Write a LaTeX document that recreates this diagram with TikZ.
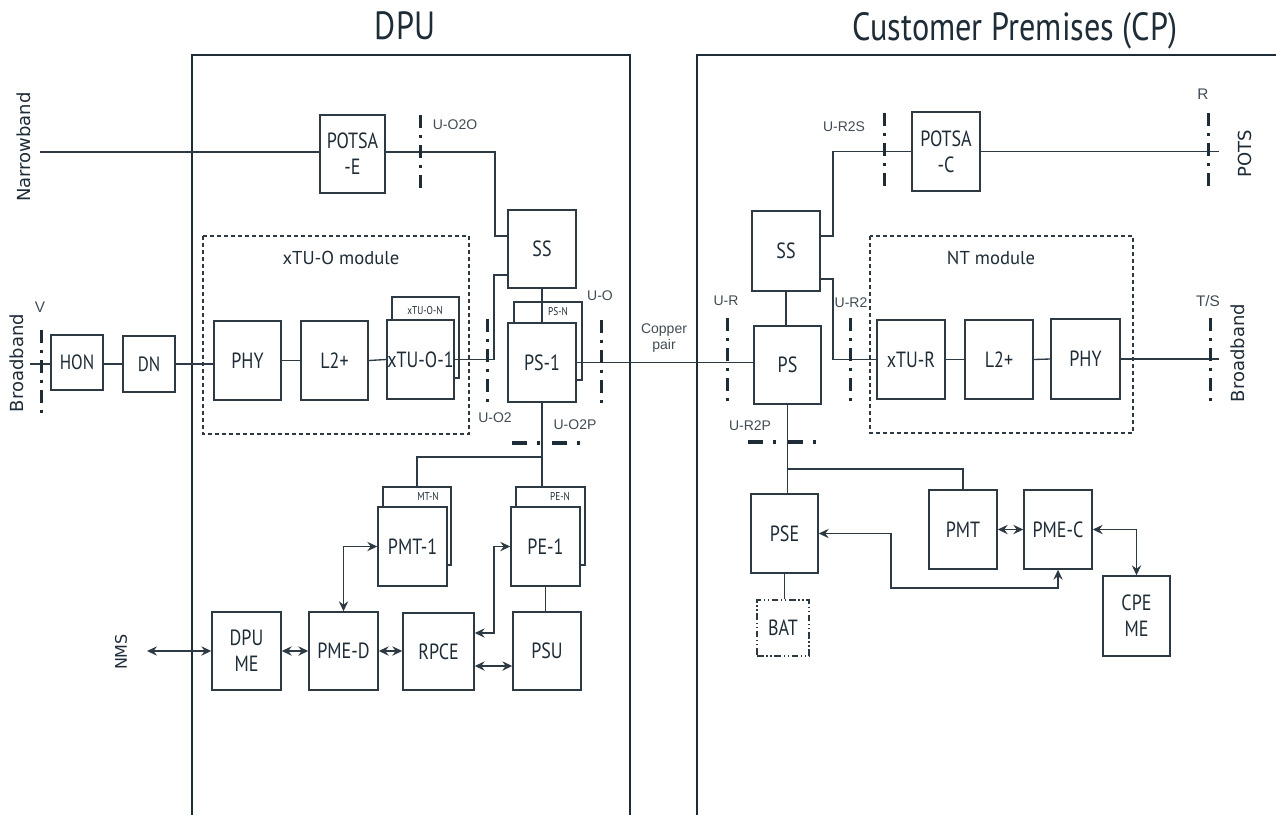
\documentclass[tikz,border=0pt]{standalone}
\usepackage{fontspec}
\setmainfont{Liberation Sans}
\newfontfamily\bfont{PT Sans}[FakeStretch=0.82]
\newfontfamily\mfont{PT Sans}
\newfontfamily\dfont{DejaVu Sans}
\usetikzlibrary{arrows.meta}
\definecolor{ink}{RGB}{30,44,55}
\definecolor{lnc}{RGB}{45,58,68}
\tikzset{
 bx/.style={draw=lnc, line width=1.1pt, fill=white, inner sep=0pt, text=ink, font=\bfont\fontsize{16.5}{19.5}\selectfont, align=center},
 ln/.style={draw=lnc, line width=1pt},
 arr/.style={ln, {Stealth[length=7.5pt,width=7pt,inset=2.6pt]}-{Stealth[length=7.5pt,width=7pt,inset=2.6pt]}},
 ifv/.style={draw=ink, line width=2.25pt, dash pattern=on 9.75pt off 5.25pt on 2.25pt off 5.25pt},
 ifh/.style={draw=ink, line width=3pt, dash pattern=on 11.25pt off 7.5pt on 2.25pt off 9pt},
 lbl/.style={text=ink!85, font=\fontsize{10.5}{12.5}\selectfont, inner sep=0pt, align=center},
 lblb/.style={text=ink!85, font=\fontsize{11.5}{13}\selectfont, inner sep=0pt},
 rot/.style={text=ink, font=\dfont\fontsize{13.5}{16}\selectfont, rotate=90, inner sep=0pt},
 ttl/.style={text=ink, font=\bfont\fontsize{29.5}{32}\selectfont, inner sep=0pt, anchor=base},
 modf/.style={draw=lnc, line width=0.8pt, dash pattern=on 3pt off 2.25pt},
 modl/.style={text=ink, font=\mfont\fontsize{14}{16}\selectfont, inner sep=0pt},
 smalll/.style={text=ink, font=\bfont\fontsize{8.5}{10}\selectfont, inner sep=0pt},
 framel/.style={draw=ink, line width=1.6pt},
 batb/.style={dash pattern=on 5pt off 2pt on 1pt off 2pt on 1pt off 2pt},
}
\newcommand\bxn[7][]{\node[bx,#1, minimum width={(#5-#3)*0.75pt}, minimum height={(#6-#4)*0.75pt}] (#2) at ({(#3+#5)/2},{(#4+#6)/2}) {#7};}
\begin{document}
\begin{tikzpicture}[x=0.75pt,y=-0.75pt]
\useasboundingbox (0,0) rectangle (1276,814);
% titles
\node[ttl] (tdpu) at (405,39) {DPU};
\node[ttl] (tcp) at (1015,40) {Customer Premises (CP)};
% frames
\draw[framel] (192,830) -- (192,55) -- (630,55) -- (630,830);
\draw[framel] (697,830) -- (697,55) -- (1290,55);
% module frames
\draw[modf] (203,236) rectangle (469,434);
\draw[modf] (870,236) rectangle (1133,433);
\node[modl] (mxtu) at (341,258) {xTU-O module};
\node[modl] (mnt) at (991,258) {NT module};
% boxes DPU side
\bxn[font=\bfont\fontsize{15.5}{18}\selectfont]{hon}{51}{335}{103}{390}{HON}
\bxn[font=\bfont\fontsize{15.5}{18}\selectfont]{dn}{123}{336}{175}{392}{DN}
\bxn{potsae}{320}{115}{385}{193}{POTSA\\-E}
\bxn{phya}{214}{321}{281}{400}{PHY}
\bxn{l2a}{301}{321}{368}{400}{L2+}
\bxn{xtun}{392}{297}{459}{378}{}
\bxn{xtuo}{387}{320}{454}{399}{xTU-O-1}
\bxn{ssa}{508}{210}{576}{288}{SS}
\bxn{psn}{514}{302}{582}{380}{}
\bxn{psa}{508}{323}{576}{402}{PS-1}
\bxn{pmtn}{383}{487}{451}{565}{}
\bxn{pmta}{378}{507}{447}{586}{PMT-1}
\bxn{pen}{516}{487}{585}{565}{}
\bxn{pea}{511}{507}{580}{586}{PE-1}
\bxn{psu}{513}{612}{581}{690}{PSU}
\bxn{dpume}{212}{612}{281}{690}{DPU\\ME}
\bxn{pmed}{309}{612}{378}{690}{PME-D}
\bxn{rpce}{403}{613}{474}{690}{RPCE}
% small labels on back boxes
\node[smalll] (lxn) at (425,311) {xTU-O-N};
\node[smalll] (lpn) at (558,312) {PS-N};
\node[smalll] (lmn) at (428,497) {MT-N};
\node[smalll] (len) at (560,497) {PE-N};
% boxes CP side
\bxn{potsac}{912}{112}{980}{191}{POTSA\\-C}
\bxn{ssb}{752}{211}{820}{291}{SS}
\bxn{psb}{754}{326}{821}{404}{PS}
\bxn{xtur}{877}{320}{945}{399}{xTU-R}
\bxn{l2b}{965}{320}{1033}{399}{L2+}
\bxn{phyb}{1051}{319}{1120}{399}{PHY}
\bxn{pse}{751}{494}{818}{573}{PSE}
\bxn{pmtb}{929}{490}{997}{569}{PMT}
\bxn{pmec}{1024}{490}{1092}{569}{PME-C}
\bxn{cpeme}{1103}{576}{1170}{656}{CPE\\ME}
\bxn[batb]{bat}{757}{600}{809}{656}{BAT}
% coordinates
\coordinate (nbs) at (40,152);
\coordinate (bbs) at (30,364);
\coordinate (a1) at (495,236);
\coordinate (a2) at (494,275);
\coordinate (b1) at (542,457);
\coordinate (nms) at (147,651);
\coordinate (c1) at (474,666);
\coordinate (c2) at (494,633);
\coordinate (d1) at (833,236);
\coordinate (d2) at (833,279);
\coordinate (pend) at (1219,151);
\coordinate (e1) at (787,469);
\coordinate (g1) at (891,588);
% connectors DPU
\draw[ln] (nbs) -- (nbs -| potsae.west);
\draw[ln] (bbs) -- (bbs -| hon.west);
\draw[ln] (hon.east |- bbs) -- (bbs -| dn.west);
\draw[ln, line width=1.7pt] (dn.east |- bbs) -- (bbs -| phya.west);
\draw[ln] (phya.east) -- (l2a.west);
\draw[ln] (l2a.east) -- (xtuo.west);
\draw[ln] (potsae.east |- nbs) -| (a1) -- (a1 -| ssa.west);
\draw[ln] (xtuo.east) -| (a2) -- (a2 -| ssa.west);
\draw[ln] (ssa.south) -- (psa.north);
\draw[ln] (psa.east) -- (psa.east -| psb.west);
\draw[ln] (psa.south) -- (psa.south |- pen.north);
\draw[ln] (psa.south |- b1) -| (pmtn.north);
\draw[ln] (pea.south) -- (pea.south |- psu.north);
\draw[arr] (nms) -- (nms -| dpume.west);
\draw[arr] (dpume.east) -- (pmed.west);
\draw[arr] (pmed.east) -- (pmed.east -| rpce.west);
\draw[arr] (rpce.east |- c1) -- (c1 -| psu.west);
\draw[arr] (pmed.north) |- (pmta.west);
\draw[arr] (rpce.east |- c2) -- (c2) |- (pea.west);
% connectors CP
\draw[ln] (ssb.east |- d1) -- (d1) |- (potsac.west);
\draw[ln] (ssb.east |- d2) -- (d2) |- (xtur.west);
\draw[ln] (potsac.east) -- (potsac.east -| pend);
\draw[ln] (xtur.east) -- (l2b.west);
\draw[ln] (l2b.east) -- (phyb.west);
\draw[ln] (phyb.east) -- (phyb.east -| pend);
\draw[ln] (ssb.south) -- (ssb.south |- psb.north);
\draw[ln] (psb.south) -- (psb.south |- pse.north);
\draw[ln] (psb.south |- e1) -| (pmtb.north);
\draw[ln] (pse.south) -- (pse.south |- bat.north);
\draw[arr] (pmtb.east) -- (pmtb.east -| pmec.west);
\draw[arr] (pmec.east) -| (cpeme.north);
\draw[arr] (pse.east) -| (g1) -| (pmec.south);
% interface markers
\draw[ifv] (41,330) -- (41,413);
\draw[ifv] (420,115) -- (420,190);
\draw[ifv] (487,319) -- (487,405);
\draw[ifv] (601,320) -- (601,405);
\draw[ifh] (512,443) -- (583,443);
\draw[ifv] (727,318) -- (727,403);
\draw[ifv] (850,318) -- (850,403);
\draw[ifv] (884,113) -- (884,190);
\draw[ifv] (1208,113) -- (1208,190);
\draw[ifv] (1210,318) -- (1210,403);
\draw[ifh] (748,442) -- (819,442);
% labels
\node[lblb] (lv) at (40,307) {V};
\node[lbl] (lo2o) at (455,125) {U-O2O};
\node[lbl] (lo2) at (495,418) {U-O2};
\node[lbl] (lo) at (600,296) {U-O};
\node[lbl] (lo2p) at (575,425) {U-O2P};
\node[lbl] (lr) at (726,301) {U-R};
\node[lbl] (lr2) at (851,303) {U-R2};
\node[lbl] (lr2s) at (844,127) {U-R2S};
\node[lblb] (lrr) at (1203,94) {R};
\node[lblb] (lts) at (1208,301) {T/S};
\node[lbl] (lr2p) at (750,426) {U-R2P};
\node[lbl] (lcp) at (664,338) {Copper\\pair};
\node[rot] (tnb) at (24,147) {Narrowband};
\node[rot] (tbb) at (17,363) {Broadband};
\node[rot] (tpots) at (1245,154) {POTS};
\node[rot] (tbb2) at (1238,353) {Broadband};
\node[rot, font=\dfont\fontsize{12}{14}\selectfont] (tnms) at (121,652) {NMS};
\end{tikzpicture}
\end{document}
